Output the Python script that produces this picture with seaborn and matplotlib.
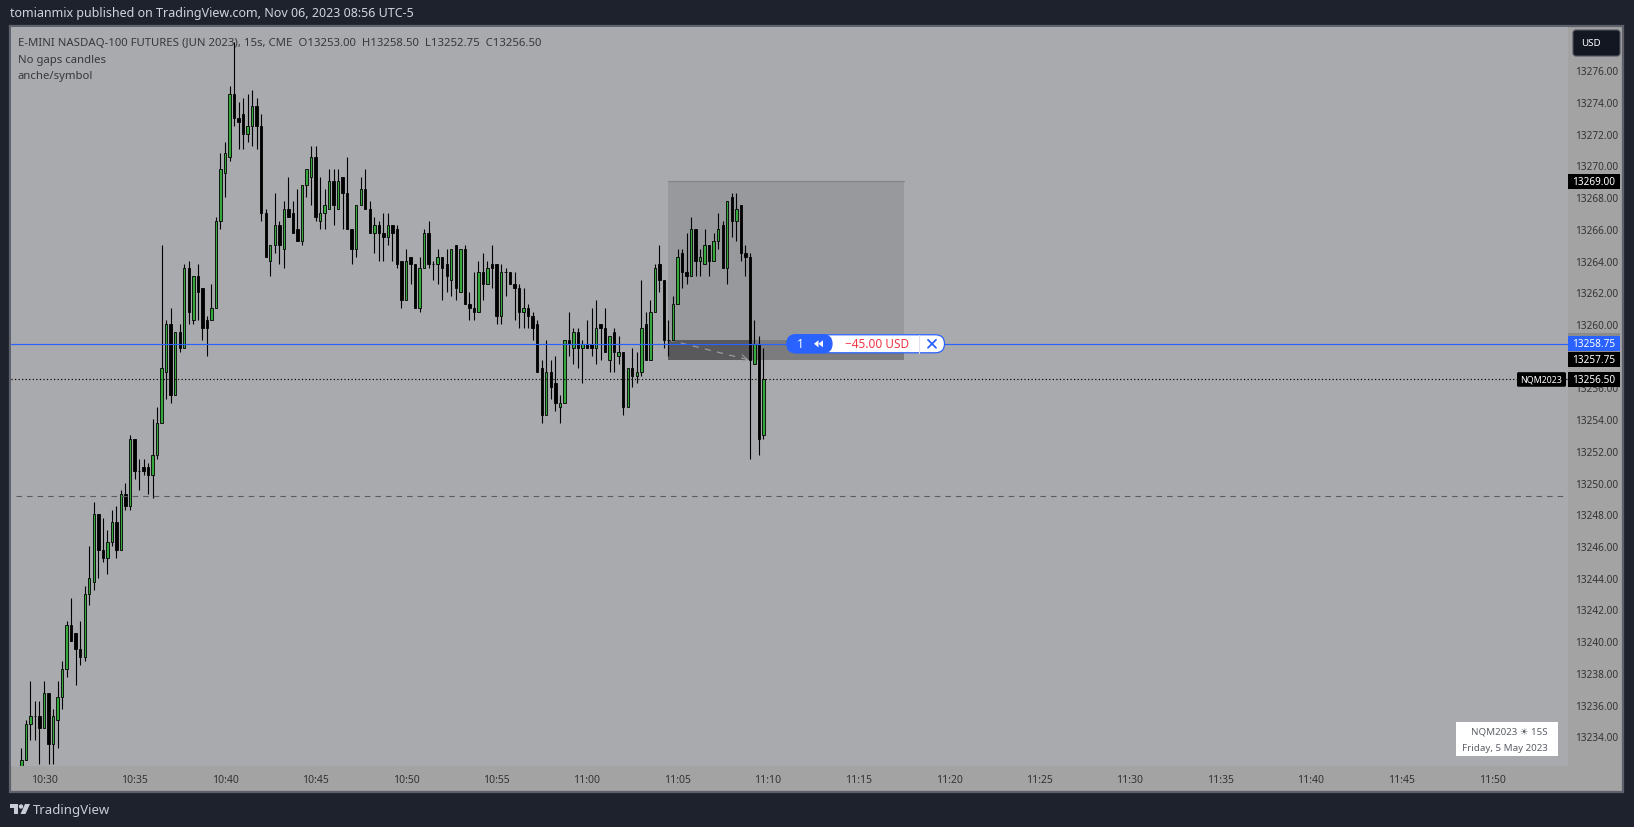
import numpy as np
import pandas as pd
import matplotlib
matplotlib.use("Agg")
import matplotlib.pyplot as plt
from matplotlib.patches import Rectangle, FancyBboxPatch, Polygon, Circle
import seaborn as sns

# ---------- data (15 s candles, first bar is index -5 relative to 10:30:00) ----------
first_bar = -5
opens = [13232,13232.5,13234.75,13235.25,13235.25,13234.5,13236.75,13233.5,13235,13236.5,13238.25,13241,13240.5,13239.5,13239,13243,13243.75,13248,13245.75,13245.25,13246.25,13247.5,13245.75,13249.25,13248.5,13252.75,13250.75,13251,13251,13250.5,13251.75,13253.75,13257,13260,13255.5,13259.5,13258.5,13263.5,13260.25,13263,13262.25,13260.25,13260.25,13261,13266.5,13269.5,13270.5,13274.5,13273,13273.25,13272,13272.5,13273.75,13272.5,13267,13264,13265,13266.25,13264.75,13267.25,13267,13266,13265.25,13268.75,13269.25,13270.5,13266.5,13267,13267.25,13269,13267.25,13269.25,13268.25,13266,13264.75,13267.5,
13268.5,13267.25,13265.75,13266.25,13265.75,13265.5,13266.25,13266,13264,13261.5,13264.25,13263.75,13261,13263.5,13265.75,13263.75,13263.75,13264.25,13263.75,13262.75,13265,13262,13264.75,13261.25,13261,13260.75,13263.25,13262.5,13263.75,13263.75,13260.5,13263.25,13263.25,13262.5,13262.25,13260.75,13261,13260.5,13260,13257.25,13254.25,13257,13256.25,13254.75,13255,13259,13258.5,13259.5,13258.5,13258.75,13258.75,13258.5,13260,13259.75,13257.75,13259.5,13258,13258.25,13254.75,13257.25,13256.75,13257,13260,13257.75,13260.75,13263.75,
13262.75,13259,13259,13261.25,13264.5,13263.25,13263,13266,13264,13263.75,13265,13264,13265.25,13266.25,13263.5,13268,13266.5,13267.5,13264.5,13264.25,13257.5,13258.75,13253]
closes = [13232.5,13234.75,13235.25,13235.25,13234.5,13236.75,13233.5,13235.25,13236.5,13238.25,13241,13240,13239.5,13239,13243,13244,13248,13245.75,13245.25,13246.25,13247.5,13245.75,13249.25,13248.5,13252.75,13250.75,13250.75,13250.75,13250.5,13251.75,13253.75,13257.25,13260,13255.5,13259.5,13258.5,13263.5,13260.75,13263,13262,13259.75,13259.75,13261,13266.5,13269.75,13270.75,13274.5,13273,13272.75,13272,13272.5,13273.75,13272.5,13267,13264.25,13265,13266.25,13265,13267.25,13266.75,13265.75,13265.25,13268.75,13269.75,13270.5,13266.75,13267,13267.5,13269,13267.5,13269,13268.25,13266,13264.75,13267.5,13268.5,
13267.25,13265.75,13266.25,13265.75,13265.5,13266.25,13265.75,13263.75,13261.5,13264,13263.75,13261,13263.5,13265.75,13263.75,13263.75,13264.25,13263.5,13263,13264.75,13262.25,13264.75,13261.25,13261,13260.75,13263.25,13262.5,13263.5,13263.5,13260.5,13263.25,13263.25,13262.5,13262.25,13260.75,13261,13260.5,13259.75,13257,13254.25,13257,13256,13255,13255,13259,13258.75,13259.5,13258.5,13258.75,13258.5,13258.5,13259.75,13259.75,13258.25,13259.25,13258.25,13258.25,13254.75,13257.25,13256.75,13257,13259.75,13257.75,13260.75,13263.5,13262.75,
13259,13259,13261.25,13264.25,13263.25,13263,13266,13264,13264.25,13265,13264,13265.25,13266,13263.5,13267.75,13266.5,13267.25,13264.5,13264.25,13257.75,13258.75,13252.75,13256.5]
highs = [13233.25,13235,13237.5,13236.25,13236.25,13237.5,13236.75,13235.75,13237.5,13238.75,13241.25,13242.75,13240.5,13241.25,13243.5,13246,13248.75,13248,13247.75,13247,13248.25,13248.5,13249.5,13250,13253,13252.75,13251.5,13251.5,13251.25,13254,13254.75,13265,13260.25,13261,13259.5,13260,13263.75,13264,13263,13263.75,13262.25,13260.5,13262.5,13266.75,13270.75,13271.5,13275,13277.75,13274,13274.25,13274.5,13274.75,13274.25,13273.25,13267.25,13265,13268.25,13266.5,13267.75,13269.25,13267.75,13268.5,13268.75,13269.75,13271.25,13271.25,13269.25,13268.5,13269.75,13269.75,13269.75,13269.25,13270.5,13266,13267.5,13269.25,
13269.75,13267.75,13266.75,13266.5,13267,13267,13266.25,13266.25,13264,13264.75,13264.25,13263.75,13264.25,13266,13266.5,13264,13264.75,13264.25,13264.75,13264.75,13265,13264.75,13265,13262,13263.25,13264,13264.5,13264,13265,13263.75,13263.75,13263.5,13263.25,13263.25,13262.5,13262.25,13261.25,13260.75,13260.25,13257.75,13259,13257.75,13258,13255.5,13259,13260.75,13259.75,13259.75,13259,13260.25,13261,13261.5,13260,13261,13259.25,13259.75,13259.25,13258.25,13257.25,13258.5,13258.25,13262.75,13260.75,13261.5,13263.75,13265,
13262.75,13260.25,13261.75,13264.75,13264.75,13265.75,13266.75,13266,13264.75,13266,13265,13265.75,13267,13266.5,13267.75,13268.25,13268.25,13267.5,13265,13264.5,13260.25,13259.25,13258.5]
lows = [13231.5,13232.5,13233.75,13233.75,13232.25,13234.5,13232.25,13232.25,13233.25,13235.75,13237.75,13240,13237.25,13238.5,13238.75,13242.25,13243.25,13244,13245,13244.25,13246,13245.25,13245.75,13248.25,13248.25,13250.25,13249.5,13250.5,13249.25,13249,13251.5,13253.75,13255.25,13255,13255.5,13258.25,13258.5,13260,13260,13260.25,13259,13258,13260.25,13261,13266,13268,13270.25,13272.5,13271,13271,13271.5,13271.25,13271,13266.5,13264.25,13263,13264.5,13263.75,13263.5,13266.75,13265.75,13265.25,13265,13268,13267.5,13266.5,13266,13266,13267.25,13266.25,13267.25,13266,13266,13263.75,13264.25,13267.5,
13267.25,13265.75,13264.5,13264,13264,13265,13264,13263.5,13261,13261.5,13262.5,13261,13260.75,13263.5,13263.5,13262.75,13262.5,13261.5,13262,13261.75,13261.5,13262,13261.25,13260.25,13260.25,13260.75,13261.5,13262.5,13262.25,13260,13260,13261.75,13262.5,13260.25,13259.75,13259.75,13259.75,13259,13257,13253.75,13254.25,13255.25,13254.5,13253.75,13255,13258,13257.5,13257.25,13256.25,13258.5,13258,13257.5,13257.75,13258.25,13257,13257,13257.5,13254.25,13254.75,13256,13256.25,13256.75,13257.75,13257.75,13260.75,13262,
13258.5,13258,13259,13261.25,13262.25,13262.5,13263,13263,13263,13263.75,13263,13264,13264.75,13263.5,13262.5,13265.5,13265.25,13264,13263,13251.5,13257.5,13251.75,13252.75]

price_ticks = [13276,13274,13272,13270,13268,13266,13264,13262,13260,13258,13256,13254,13252,13250,13248,13246,13244,13242,13240,13238,13236,13234]
time_labels = ["10:30","10:35","10:40","10:45","10:50","10:55","11:00","11:05","11:10","11:15","11:20","11:25","11:30","11:35","11:40","11:45","11:50"]
bars_per_label = 20

position_entry = 13259.0
position_target = 13269.0
position_stop = 13257.75
position_start, position_exit, position_end = 138, 155.5, 190
fill_price = 13258.75
last_price = 13256.50
level_price = 13249.15

legend_line = "E-MINI NASDAQ-100 FUTURES (JUN 2023), 15s, CME  O13253.00  H13258.50  L13252.75  C13256.50"

# ---------- style ----------
BG = "#1e222d"; PANE = "#a9aaad"; STRIP = "#a3a3a4"; BORDER = "#5f626c"
UP = "#35a83c"; BLUE = "#2962ff"; INK = "#333336"

sns.set_theme(style="white", rc={"axes.edgecolor": "none", "axes.linewidth": 0})
plt.rcParams["font.family"] = ["Noto Sans", "DejaVu Sans"]

W, H = 1634, 828
fig = plt.figure(figsize=(W / 100, H / 100), dpi=100, facecolor=BG)

def frac(l, t, r, b):
    return [l / W, 1 - b / H, (r - l) / W, (b - t) / H]

# chart frame + axis strips, behind the main axes
bg = fig.add_axes([0, 0, 1, 1], zorder=-1)
bg.set_xlim(0, W); bg.set_ylim(H, 0); bg.axis("off")
bg.add_patch(Rectangle((10, 27), 1613, 766, fc=STRIP, ec=BORDER, lw=1.6))

ax = fig.add_axes(frac(11, 28, 1568, 767), zorder=1)
ax.set_facecolor(PANE)

px_per_bar = 4.525
y_ref = 71.2
ax.set_xlim(-33 / px_per_bar, (1568 - 44) / px_per_bar)
y_top = 13276 + (y_ref - 28) / 15.86
y_bot = 13276 - (767 - y_ref) / 15.86
ax.set_ylim(y_bot, y_top)

# ---------- position tool (under the candles) ----------
ax.add_patch(Rectangle((position_start, position_entry), position_end - position_start,
                       position_target - position_entry, fc="#98999c", ec="none", zorder=1))
ax.plot([position_start, position_end], [position_target] * 2, color="#828386", lw=0.8, zorder=1.2)
ax.add_patch(Rectangle((position_start, position_stop), position_end - position_start,
                       position_entry - position_stop, fc="#7c7c7e", ec="none", zorder=1))
ax.add_patch(Rectangle((position_start, position_stop), position_exit + 0.5 - position_start,
                       position_entry - position_stop, fc="#59595b", ec="none", zorder=1.1))
ax.plot([position_start, position_exit], [position_entry, position_stop], color="#9a9a9c",
        lw=0.9, ls=(0, (5, 5)), zorder=1.3)
ax.plot([position_exit - 1.2, position_exit, position_exit - 1.2],
        [position_stop + 0.3, position_stop, position_stop - 0.1], color="#9a9a9c", lw=0.8, zorder=1.3)

# ---------- candles ----------
candles = pd.DataFrame({"open": opens, "close": closes, "high": highs, "low": lows})
candles["bar"] = np.arange(len(candles)) + first_bar
wicks = candles.melt(id_vars="bar", value_vars=["high", "low"], value_name="price").sort_values("bar")
sns.lineplot(data=wicks, x="bar", y="price", units="bar", estimator=None, sort=False,
             color="#000000", lw=0.8, legend=False, ax=ax, zorder=3, solid_capstyle="butt")
is_up = candles["close"] > candles["open"]
ax.bar(candles["bar"], (candles["close"] - candles["open"]).abs(),
       bottom=candles[["open", "close"]].min(axis=1), width=0.54,
       color=np.where(is_up, UP, "#000000"), edgecolor="#000000", linewidth=0.6, zorder=4)

# ---------- price lines ----------
ax.axhline(fill_price, color=BLUE, lw=0.85, zorder=6)
ax.axhline(last_price, color="#000000", lw=0.85, ls=(0, (1, 2)), zorder=5)
ax.plot([-6.2, 335.7], [level_price] * 2, color="#5c5c60", lw=0.8, ls=(0, (5, 4.5)), zorder=5)

# ---------- axes ----------
ax.set_xlabel(""); ax.set_ylabel("")
ax.set_xticks(np.arange(len(time_labels)) * bars_per_label, time_labels)
ax.set_yticks(price_ticks, [f"{p:.2f}" for p in price_ticks])
ax.tick_params(axis="y", left=False, right=False, labelleft=False, labelright=True,
               length=0, pad=5, labelsize=7.2, labelcolor=INK)
ax.tick_params(axis="x", bottom=False, length=0, pad=6, labelsize=7.5, labelcolor=INK)
for s in ax.spines.values():
    s.set_visible(False)

# ---------- overlay (labels, buttons) ----------
ov = fig.add_axes([0, 0, 1, 1], zorder=5)
ov.set_xlim(0, W); ov.set_ylim(H, 0); ov.axis("off")

ov.text(10, 14, "tomianmix published on TradingView.com, Nov 06, 2023 08:56 UTC-5",
        color="#d1d4dc", fontsize=9, fontweight="semibold", va="center")
for y, s in [(44, legend_line), (61, "No gaps candles"), (77, "anche/symbol")]:
    ov.text(18, y, s, color="#38383b", fontsize=8.18, va="center")

ov.add_patch(FancyBboxPatch((1573, 31), 47, 26, boxstyle="round,pad=0,rounding_size=3",
                            fc="#131722", ec="#50535e", lw=0.8))
ov.text(1581, 44, "USD", color="white", fontsize=7, va="center")

def price_box(y0, y1, color):
    ov.add_patch(Rectangle((1568, y0), 52, y1 - y0, fc=color, ec="none"))

def price_y(p):
    return y_ref + (13276 - p) * 15.86

price_box(price_y(position_entry) - 7, price_y(position_stop), "#8b8b8d")
for p, c in [(position_stop, "#000000"), (position_target, "#000000"), (last_price, "#000000"), (fill_price, BLUE)]:
    yc = price_y(p)
    price_box(yc - 7.3, yc + 7.3, c)
    ov.text(1615.5, yc, f"{p:.2f}", color="white", fontsize=7.2, ha="right", va="center", fontweight="semibold")
ov.add_patch(FancyBboxPatch((1517, price_y(last_price) - 7.3), 49, 14.6,
                            boxstyle="round,pad=0,rounding_size=1.5", fc="#000000", ec="none"))
ov.text(1541.5, price_y(last_price), "NQM2023", color="white", fontsize=6.4, ha="center", va="center", fontweight="semibold")

# order pill
py = price_y(fill_price)
ov.add_patch(FancyBboxPatch((787, py - 9), 157.5, 18, boxstyle="round,pad=0,rounding_size=9",
                            fc="white", ec=BLUE, lw=0.9))
ov.add_patch(FancyBboxPatch((787, py - 9), 45, 18, boxstyle="round,pad=0,rounding_size=9",
                            fc=BLUE, ec=BLUE, lw=0.9))
ov.text(800, py, "1", color="white", fontsize=8.5, ha="center", va="center", fontweight="bold")
for dx in (814, 818.5):
    ov.add_patch(Polygon([[dx, py], [dx + 4.5, py - 3.5], [dx + 4.5, py + 3.5]], fc="white", ec="none"))
ov.text(877, py, "\u221245.00 USD", color="#f23645", fontsize=8.5, ha="center", va="center")
ov.plot([919, 919], [py - 9, py + 9], color="#dfe3ee", lw=0.8)
ov.plot([928, 936], [py - 4, py + 4], color=BLUE, lw=1.3)
ov.plot([928, 936], [py + 4, py - 4], color=BLUE, lw=1.3)

# watermark box
ov.add_patch(Rectangle((1456, 723), 102, 34, fc="white", ec="none"))
ov.text(1548, 732, "NQM2023 \u2600 15S", color="#5d6068", fontsize=7, ha="right", va="center")
ov.text(1548, 749, "Friday, 5 May 2023", color="#5d6068", fontsize=7, ha="right", va="center")

# footer logo and name
LOGO = "#c9ccd4"
ov.add_patch(Polygon([[10, 805], [18.5, 805], [18.5, 815], [14, 815], [14, 809], [10, 809]], fc=LOGO, ec="none"))
ov.add_patch(Circle((21, 807.5), 2.2, fc=LOGO, ec="none"))
ov.add_patch(Polygon([[25, 805], [30, 805], [25.5, 815], [20.5, 815]], fc=LOGO, ec="none"))
ov.text(33, 811, "TradingView", color=LOGO, fontsize=9.5, va="center")

fig.savefig("out.png", dpi=100, facecolor=BG)
